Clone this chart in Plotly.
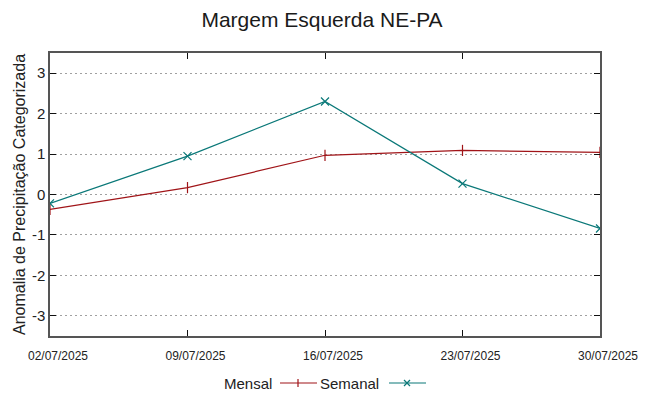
import plotly.graph_objects as go

dates = ["02/07/2025", "09/07/2025", "16/07/2025", "23/07/2025", "30/07/2025"]
mensal = [-0.37, 0.17, 0.97, 1.09, 1.04]
semanal = [-0.22, 0.95, 2.30, 0.27, -0.84]
y_ticks = [-3, -2, -1, 0, 1, 2, 3]
y_tick_labels = ["-3", "-2", "-1", "0", "1", "2", "3"]

RED = "#a01418"
TEAL = "#0a7878"
FONT = "Liberation Sans, Arial, sans-serif"
OFF = 8  # page body margin offset

fig = go.Figure()
fig.add_trace(go.Scatter(x=dates, y=mensal, mode="lines+markers", name="Mensal",
                         line=dict(color=RED, width=1.2),
                         marker=dict(symbol="line-ns-open", size=8, color=RED,
                                     line=dict(color=RED, width=1.2))))
fig.add_trace(go.Scatter(x=dates, y=semanal, mode="lines+markers", name="Semanal",
                         line=dict(color=TEAL, width=1.2),
                         marker=dict(symbol="x-thin-open", size=8, color=TEAL,
                                     line=dict(color=TEAL, width=1.2))))

fig.update_layout(
    width=648, height=396,
    margin=dict(l=50 - OFF, r=48 + OFF, t=53 - OFF, b=60 + OFF, autoexpand=False),
    paper_bgcolor="white", plot_bgcolor="white",
    showlegend=False,
    font=dict(family=FONT, color="#222"),
    title=dict(text="Margem Esquerda NE-PA", x=(322 - OFF) / 648, xanchor="center",
               xref="container", y=1 - (20 - OFF) / 396, yanchor="middle", automargin=False,
               font=dict(size=21, family=FONT, color="#1a1a1a")),
)
fig.update_xaxes(type="category", range=[0, len(dates) - 1], automargin=False,
                 showline=True, linecolor="#555", linewidth=1.5, mirror="ticks",
                 ticks="inside", ticklen=6, tickcolor="#111",
                 showgrid=False, zeroline=False, ticklabelstandoff=8, ticklabelshift=8,
                 tickfont=dict(size=12, family=FONT, color="#222"))
fig.update_yaxes(range=[-3.5, 3.5], tickvals=y_ticks, ticktext=y_tick_labels,
                 automargin=False,
                 showline=True, linecolor="#555", linewidth=1.5, mirror="ticks",
                 ticks="inside", ticklen=6, tickcolor="#111",
                 showgrid=True, gridcolor="#a0a0a0", griddash="2px,3px", gridwidth=1,
                 zeroline=False,
                 tickfont=dict(size=15, family=FONT, color="#222"),
                 title=dict(text="Anomalia de Precipitação Categorizada", standoff=2,
                            font=dict(size=16, family=FONT, color="#222")))

# custom legend (text before sample, gnuplot style); screen px -> paper coords
def px_x(p):
    return (p - 50) / 550.0

def px_y(p):
    return (336 - p) / 283.0

ly = px_y(383)
fig.add_annotation(x=px_x(274), y=ly, xref="paper", yref="paper", text="Mensal",
                   showarrow=False, xanchor="right", yanchor="middle",
                   font=dict(size=15, family=FONT, color="#222"))
fig.add_annotation(x=px_x(381), y=ly, xref="paper", yref="paper", text="Semanal",
                   showarrow=False, xanchor="right", yanchor="middle",
                   font=dict(size=15, family=FONT, color="#222"))
fig.add_shape(type="line", xref="paper", yref="paper", x0=px_x(280), x1=px_x(317),
              y0=ly, y1=ly, line=dict(color=RED, width=1.2))
fig.add_shape(type="line", xref="paper", yref="paper", xsizemode="pixel", ysizemode="pixel",
              xanchor=px_x(298), yanchor=ly, x0=0, x1=0, y0=-4, y1=4,
              line=dict(color=RED, width=1.2))
fig.add_shape(type="line", xref="paper", yref="paper", x0=px_x(389), x1=px_x(426),
              y0=ly, y1=ly, line=dict(color=TEAL, width=1.2))
for s in (1, -1):
    fig.add_shape(type="line", xref="paper", yref="paper", xsizemode="pixel", ysizemode="pixel",
                  xanchor=px_x(407), yanchor=ly, x0=-3, x1=3, y0=-3 * s, y1=3 * s,
                  line=dict(color=TEAL, width=1.2))

fig.write_html("out.html")
